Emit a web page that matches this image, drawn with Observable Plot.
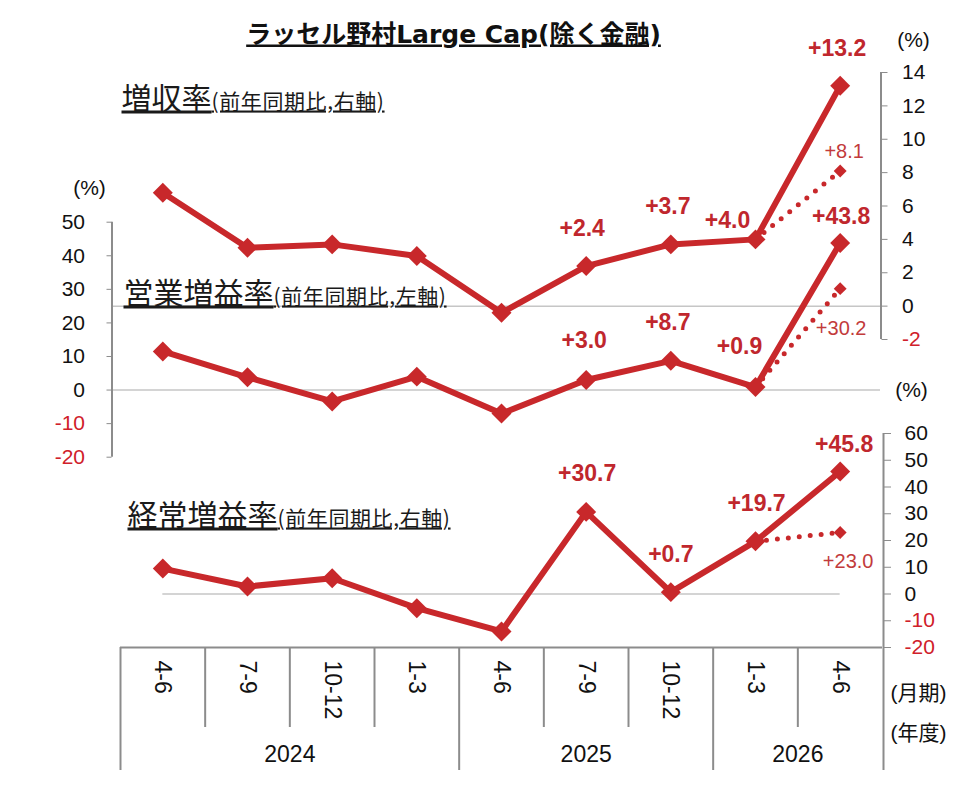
<!DOCTYPE html>
<html>
<head>
<meta charset="utf-8">
<script src="https://cdn.jsdelivr.net/npm/d3@7"></script>
<script src="https://cdn.jsdelivr.net/npm/@observablehq/plot@0.6"></script>
<style>
  html, body { margin: 0; padding: 0; background: #fff; }
  #chart { width: 953px; height: 809px; }
</style>
</head>
<body>
<div id="chart"></div>
<script>
// ---------------- data ----------------
const chartTitle = "ラッセル野村Large Cap(除く金融)";
const periods = ["4-6", "7-9", "10-12", "1-3", "4-6", "7-9", "10-12", "1-3", "4-6"];
const fiscalYears = ["2024", "2025", "2026"];
const fiscalYearFirstIdx = [0, 4, 7];   // first period index of each fiscal year
const fiscalYearLastIdx = [3, 6, 8];    // last period index of each fiscal year

const seriesNames = ["増収率", "営業増益率", "経常増益率"];
const seriesNotes = ["(前年同期比,右軸)", "(前年同期比,左軸)", "(前年同期比,右軸)"];

const revenueGrowth = [6.8, 3.5, 3.7, 3.0, -0.4, 2.4, 3.7, 4.0, 13.2];
const opProfitGrowth = [11.5, 3.8, -3.4, 4.0, -7.0, 3.0, 8.7, 0.9, 43.8];
const ordProfitGrowth = [9.5, 2.8, 5.9, -5.3, -14.0, 30.7, 0.7, 19.7, 45.8];

// alternative (dotted) path from 1-3 to 4-6
const altPeriodIdx = [7, 8];
const revenueAlt = [4.0, 8.1];
const opProfitAlt = [0.9, 30.2];
const ordProfitAlt = [19.7, 23.0];

const labeledIdx = [5, 6, 7, 8];

const leftTicks = [-20, -10, 0, 10, 20, 30, 40, 50];
const revTicks = [-2, 0, 2, 4, 6, 8, 10, 12, 14];
const ordTicks = [-20, -10, 0, 10, 20, 30, 40, 50, 60];
const unitPercent = "(%)";
const unitMonths = "(月期)";
const unitYear = "(年度)";

// ---------------- layout ----------------
const W = 953, H = 809;
const RED = "#c8282b";
const LABEL_RED = "#c0272d";
const ALT_RED = "#c23b3b";
const GRAY = "#8c8c8c";
const GRID = "#c6c6c6";
const FONT = "'Liberation Sans', Arial, 'Noto Sans CJK JP', sans-serif";

// pixel helpers for layout (axes extents, annotations)
const xPx = d3.scaleLinear([-0.5, 8.5], [120, 882]);
const yPx = d3.scaleLinear([-20, 50], [456.7, 221.7]); // left axis = 営業増益率
const px = v => xPx.invert(v);
const py = v => yPx.invert(v);
// secondary axes expressed in left-axis units
const revToY = d3.scaleLinear([-2, 14], [py(339), py(72)]);
const ordToY = d3.scaleLinear([-20, 60], [py(647), py(433)]);
const opToY = d3.scaleLinear([0, 1], [0, 1]);

const series = [
  {key: "rev", values: revenueGrowth, alt: revenueAlt, toY: revToY,
   labelOff: {5: [-4, -37], 6: [-3, -38], 7: [-28, -19], 8: [-3, -37]}, altOff: [4, -19]},
  {key: "op", values: opProfitGrowth, alt: opProfitAlt, toY: opToY,
   labelOff: {5: [-2, -39], 6: [-3, -38], 7: [-16, -40], 8: [1, -26]}, altOff: [1, 40]},
  {key: "ord", values: ordProfitGrowth, alt: ordProfitAlt, toY: ordToY,
   labelOff: {5: [1, -38], 6: [0, -38], 7: [1, -38], 8: [4, -27]}, altOff: [8, 29]}
];

const rows = series.flatMap(s => s.values.map((v, i) => ({key: s.key, i, v, y: s.toY(v)})));
const altRows = series.flatMap(s => s.alt.map((v, k) => ({key: s.key, i: altPeriodIdx[k], v, y: s.toY(v)})));

const fmt = v => (v >= 0 ? "+" : "") + v.toFixed(1);

// value labels
const labelMarks = series.flatMap(s => labeledIdx.map(i => Plot.text([{i, y: s.toY(s.values[i]), t: fmt(s.values[i])}], {
  x: "i", y: "y", text: "t", dx: s.labelOff[i][0], dy: s.labelOff[i][1],
  fill: LABEL_RED, fontSize: 23, fontWeight: "bold"
})));
const altLabelMarks = series.map(s => {
  const k = s.alt.length - 1;
  return Plot.text([{i: altPeriodIdx[k], y: s.toY(s.alt[k]), t: fmt(s.alt[k])}], {
    x: "i", y: "y", text: "t", dx: s.altOff[0], dy: s.altOff[1],
    fill: ALT_RED, fontSize: 20
  });
});

// axis helper (positive labels black, negative red)
function axisPair(ticks, toY, opts) {
  const f = d => String(Math.round(toY.invert(d)));
  return [
    Plot.axisY(ticks.filter(d => d >= 0).map(d => toY(d)), {...opts, label: null, tickFormat: f, stroke: GRAY, fill: "#111", fontSize: 21}),
    Plot.axisY(ticks.filter(d => d < 0).map(d => toY(d)), {...opts, label: null, tickFormat: f, stroke: GRAY, fill: "#d0202a", fontSize: 21})
  ];
}

const boundaries = d3.range(0, 9).map(k => k - 0.5);
const yearBounds = [-0.5, 3.5, 6.5];
const shortBounds = boundaries.filter(b => !yearBounds.includes(b));

const chart = Plot.plot({
  width: W,
  height: H,
  marginLeft: 120,
  marginRight: W - 882,
  marginTop: 0,
  marginBottom: 0,
  x: {domain: [-0.5, 8.5], axis: null},
  y: {domain: [py(H), py(0)], range: [H, 0], label: null},
  style: {fontFamily: FONT, background: "#fff", color: "#111", overflow: "visible"},
  marks: [
    // zero grid lines
    Plot.ruleY([0], {y: d => revToY(d), x1: px(111.5), x2: px(880.5), stroke: GRID, strokeWidth: 1.5}),
    Plot.ruleY([0], {x1: px(111.5), x2: px(880), stroke: GRID, strokeWidth: 1.5}),
    Plot.ruleY([0], {y: d => ordToY(d), x1: 0, x2: 8, stroke: GRID, strokeWidth: 1.5}),

    // axis lines
    Plot.ruleX([-0.5], {y1: -20, y2: 50, dx: -8.5, stroke: GRAY, strokeWidth: 2}),
    Plot.ruleX([8.5], {y1: revToY(-2), y2: revToY(14), dx: -1.5, stroke: GRAY, strokeWidth: 2}),
    Plot.ruleX([8.5], {y1: py(770), y2: ordToY(60), dx: 1, stroke: GRAY, strokeWidth: 2}),

    // category box
    Plot.ruleY([-20], {y: d => ordToY(d), x1: -0.5, x2: 8.5, stroke: GRAY, strokeWidth: 2}),
    Plot.ruleX(shortBounds, {y1: py(647), y2: py(727), stroke: GRAY, strokeWidth: 2}),
    Plot.ruleX(yearBounds, {y1: py(647), y2: py(770), stroke: GRAY, strokeWidth: 2}),

    // axes
    ...axisPair(leftTicks, opToY, {anchor: "left", dx: -8.5, tickSize: 5, tickPadding: 22}),
    ...axisPair(revTicks, revToY, {anchor: "right", dx: -1.5, tickSize: 6, tickPadding: 15}),
    ...axisPair(ordTicks, ordToY, {anchor: "right", dx: 1, tickSize: 7, tickPadding: 14}),

    // series
    Plot.line(altRows, {x: "i", y: "y", z: "key", stroke: RED, strokeWidth: 5, strokeDasharray: "0 11", strokeLinecap: "round"}),
    Plot.line(rows, {x: "i", y: "y", z: "key", stroke: RED, strokeWidth: 6, strokeLinejoin: "round"}),
    Plot.dot(rows, {x: "i", y: "y", symbol: "diamond2", r: 9, fill: RED}),
    Plot.dot(altRows.filter(d => d.i === altPeriodIdx[1]), {x: "i", y: "y", symbol: "diamond2", r: 5.8, fill: RED}),

    ...labelMarks,
    ...altLabelMarks,

    // category labels
    Plot.text(periods.map((p, i) => ({i, p})), {x: "i", y: py(660), text: "p", rotate: 90, textAnchor: "start", fontSize: 23}),
    Plot.text(fiscalYears.map((t, k) => ({t, x: (fiscalYearFirstIdx[k] + fiscalYearLastIdx[k]) / 2})), {x: "x", y: py(754), text: "t", fontSize: 23}),

    // unit labels
    Plot.text([unitPercent], {x: px(89), y: py(188), fontSize: 21}),
    Plot.text([unitPercent], {x: px(913), y: py(40), fontSize: 21}),
    Plot.text([unitPercent], {x: px(911), y: py(390), fontSize: 21}),
    Plot.text([unitMonths], {x: px(918), y: py(693), fontSize: 21}),
    Plot.text([unitYear], {x: px(918), y: py(733), fontSize: 21}),

    // series titles
    Plot.text([0, 1, 2], {
      x: i => px([121, 123, 127][i]), y: i => py([108, 303, 525][i]),
      text: i => seriesNames[i] + seriesNotes[i],
      textAnchor: "start", lineAnchor: "bottom", fontSize: 30, fill: "#1a1a1a",
      fontFamily: "'Noto Sans CJK JP', sans-serif"
    }),

    // chart title
    Plot.text([chartTitle], {
      x: px(453), y: py(42), textAnchor: "middle", lineAnchor: "bottom",
      fontSize: 25, fontWeight: "bold", fill: "#111",
      fontFamily: "'DejaVu Sans', 'Noto Sans CJK JP', sans-serif"
    })
  ]
});

// underline titles and split series titles into two sizes
const NS = "http://www.w3.org/2000/svg";
const seriesFull = seriesNames.map((n, i) => n + seriesNotes[i]);
chart.querySelectorAll("text").forEach(t => {
  const full = t.textContent;
  if (full === chartTitle) {
    t.style.textDecoration = "underline";
  } else if (seriesFull.includes(full)) {
    const cut = full.indexOf("(");
    t.textContent = "";
    const a = document.createElementNS(NS, "tspan");
    a.textContent = full.slice(0, cut);
    a.setAttribute("font-size", "30");
    const b = document.createElementNS(NS, "tspan");
    b.textContent = full.slice(cut);
    b.setAttribute("font-size", "21");
    b.setAttribute("letter-spacing", "0.6");
    t.appendChild(a);
    t.appendChild(b);
    t.style.textDecoration = "underline";
  }
});

document.getElementById("chart").appendChild(chart);
</script>
</body>
</html>
